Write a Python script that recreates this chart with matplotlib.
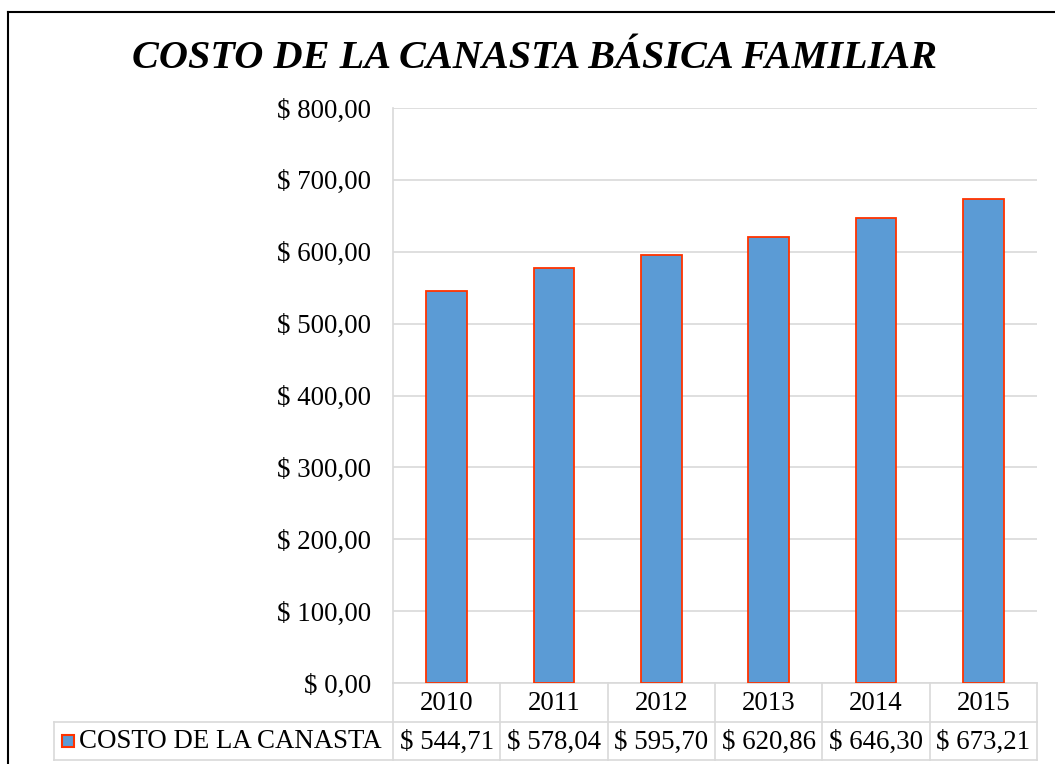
import matplotlib
matplotlib.use("Agg")
import matplotlib.pyplot as plt
from matplotlib.lines import Line2D
from matplotlib.patches import Rectangle
import matplotlib.transforms as mtrans

plt.rcParams['font.family'] = ['Liberation Serif', 'DejaVu Serif']

years = ["2010", "2011", "2012", "2013", "2014", "2015"]
costs = [544.71, 578.04, 595.70, 620.86, 646.30, 673.21]
value_labels = ["$ 544,71", "$ 578,04", "$ 595,70", "$ 620,86", "$ 646,30", "$ 673,21"]
yticks = [0, 100, 200, 300, 400, 500, 600, 700, 800]
ytick_labels = ["$ 0,00", "$ 100,00", "$ 200,00", "$ 300,00", "$ 400,00",
                "$ 500,00", "$ 600,00", "$ 700,00", "$ 800,00"]
series_name = "COSTO DE LA CANASTA"
title = "COSTO DE LA CANASTA BÁSICA FAMILIAR"

W, H = 1055, 764
fig = plt.figure(figsize=(W / 100, H / 100), dpi=100)
grid_c = "#d9d9d9"
bar_face = "#5b9bd5"
bar_edge = "#ff3300"
FS = 19.4

def fx(px):
    return px / W

def fy(py):
    return 1 - py / H

ax_l, ax_r, ax_t, ax_b = 393, 1037, 108, 683
ax = fig.add_axes([fx(ax_l), fy(ax_b), fx(ax_r - ax_l), fy(ax_t) - fy(ax_b)])

x = list(range(len(years)))
ax.bar(x, costs, width=0.38, color=bar_face, edgecolor=bar_edge, linewidth=1.3, zorder=3)
ax.set_xlim(-0.5, len(years) - 0.5)
ax.set_ylim(0, 800)
ax.set_yticks(yticks)
ax.set_yticklabels(ytick_labels, fontsize=FS)
ax.set_xticks([])
ax.tick_params(axis='y', length=0, pad=16)
ax.yaxis.grid(True, color=grid_c, linewidth=1.2, zorder=0)
for s in ["top", "right"]:
    ax.spines[s].set_visible(False)
ax.spines["left"].set_color(grid_c)
ax.spines["left"].set_linewidth(1.2)
ax.spines["bottom"].set_color(grid_c)
ax.spines["bottom"].set_linewidth(1.2)

# Data table below the axes
row1_top, row1_bot, row2_bot = 683, 722, 760
leg_left = 54
col_edges = [ax_l + (ax_r - ax_l) * i / len(years) for i in range(len(years) + 1)]

def hline(y, x0, x1):
    fig.add_artist(Line2D([fx(x0), fx(x1)], [fy(y), fy(y)], color=grid_c, lw=1.2))

def vline(xp, y0, y1):
    fig.add_artist(Line2D([fx(xp), fx(xp)], [fy(y0), fy(y1)], color=grid_c, lw=1.2))

hline(row1_bot, leg_left, ax_r)
hline(row2_bot, leg_left, ax_r)
for xe in col_edges:
    vline(xe, row1_top, row2_bot)
vline(leg_left, row1_bot, row2_bot)

trans_hdr = mtrans.blended_transform_factory(ax.transData, fig.transFigure)
for i, yr in enumerate(years):
    ax.text(i, fy((row1_top + row1_bot) / 2 + 1), yr, transform=trans_hdr,
            ha="center", va="center", fontsize=FS)
    ax.text(i, fy((row1_bot + row2_bot) / 2 + 1), value_labels[i], transform=trans_hdr,
            ha="center", va="center", fontsize=FS)

# legend key
fig.add_artist(Rectangle((fx(62), fy(747)), fx(12), fy(735) - fy(747),
                         facecolor=bar_face, edgecolor=bar_edge, lw=1.5))
fig.text(fx(79), fy((row1_bot + row2_bot) / 2 + 1), series_name, ha="left", va="center",
         fontsize=FS)

# title
fig.text(fx(535), fy(58), title, ha="center", va="center", fontsize=29,
         fontweight="bold", fontstyle="italic")

# outer border (top and left)
fig.add_artist(Line2D([fx(8), fx(W + 5)], [fy(12), fy(12)], color="black", lw=1.5))
fig.add_artist(Line2D([fx(8), fx(8)], [fy(12), fy(H + 5)], color="black", lw=1.5))

fig.savefig("out.png", dpi=100)
